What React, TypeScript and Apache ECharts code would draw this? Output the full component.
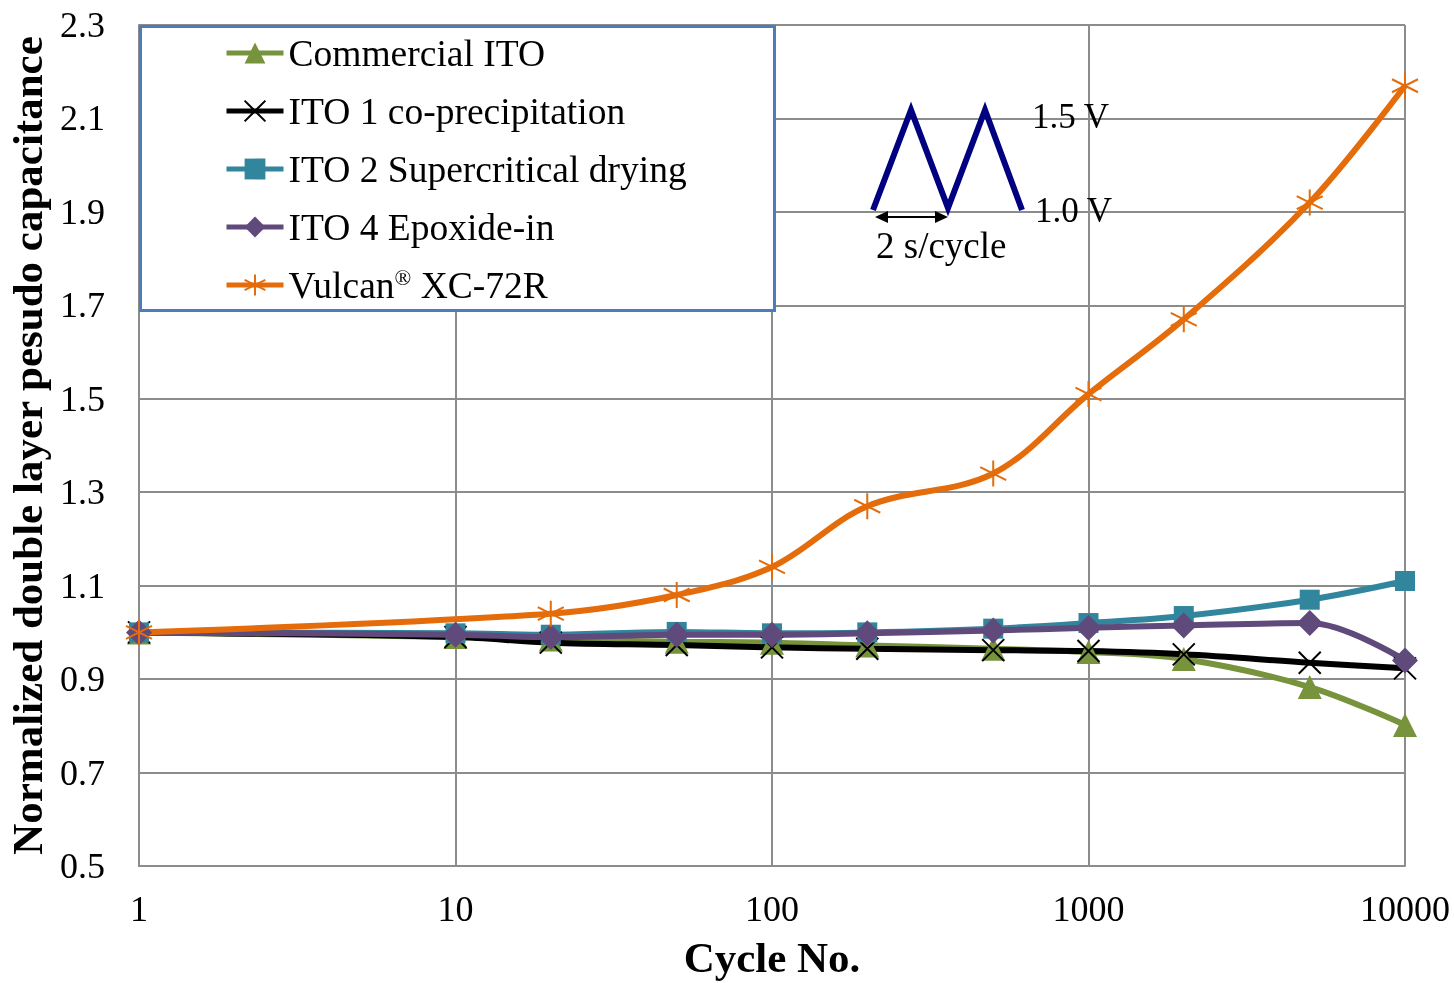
import React, { useEffect, useRef } from "react";
import * as echarts from "echarts";

const cycles = [1, 10, 20, 50, 100, 200, 500, 1000, 2000, 5000, 10000];
const commercialITO = [1.0, 0.99, 0.985, 0.98, 0.978, 0.972, 0.965, 0.958, 0.943, 0.883, 0.802];
const ito1 = [1.0, 0.99, 0.978, 0.973, 0.968, 0.965, 0.962, 0.96, 0.953, 0.935, 0.923];
const ito2 = [1.0, 0.998, 0.995, 1.001, 0.998, 1.0, 1.008, 1.02, 1.035, 1.07, 1.11];
const ito4 = [1.0, 0.995, 0.99, 0.995, 0.995, 0.998, 1.004, 1.01, 1.015, 1.02, 0.94];
const vulcan = [1.0, null, 1.04, 1.08, 1.14, 1.27, 1.34, 1.51, 1.67, 1.92, 2.17];
const xTicks = [1, 10, 100, 1000, 10000];
const yTicks = [0.5, 0.7, 0.9, 1.1, 1.3, 1.5, 1.7, 1.9, 2.1, 2.3];

const SERIF = "Liberation Serif";

function pairs(vals: (number | null)[]) {
  const out: [number, number][] = [];
  vals.forEach((v, i) => {
    if (v !== null) out.push([cycles[i], v]);
  });
  return out;
}

export default function App() {
  const ref = useRef<HTMLDivElement>(null);
  useEffect(() => {
    if (!ref.current) return;
    const chart = echarts.init(ref.current, null, { renderer: "svg" });
    const mk = (name: string, vals: (number | null)[], color: string, symbol: string, size: number, stroke: boolean) => ({
      name,
      type: "line",
      data: pairs(vals),
      smooth: 0.35,
      symbol,
      symbolSize: size,
      showAllSymbol: true,
      lineStyle: { color, width: 6 },
      itemStyle: stroke
        ? { color: "rgba(0,0,0,0)", borderColor: color, borderWidth: 2 }
        : { color, borderWidth: 0 },
      emphasis: { disabled: true },
    });
    const option: any = {
      animation: false,
      grid: { left: 139, right: 49, top: 25, bottom: 117, containLabel: false, outerBoundsMode: "none" },
      xAxis: {
        type: "log",
        logBase: 10,
        min: xTicks[0],
        max: xTicks[xTicks.length - 1],
        name: "Cycle No.",
        nameLocation: "middle",
        nameGap: 70,
        nameTextStyle: { fontFamily: SERIF, fontSize: 43, fontWeight: "bold", color: "#000" },
        axisLine: { show: true, lineStyle: { color: "#8c8c8c", width: 2 } },
        axisTick: { show: false },
        axisLabel: { fontFamily: SERIF, fontSize: 36, color: "#000", margin: 25, formatter: (v: number) => String(Math.round(v)) },
        splitLine: { show: true, lineStyle: { color: "#8c8c8c", width: 2 } },
        minorTick: { show: false },
      },
      yAxis: {
        type: "value",
        min: yTicks[0],
        max: yTicks[yTicks.length - 1],
        interval: 0.2,
        name: "Normalized double layer pesudo capacitance",
        nameLocation: "middle",
        nameGap: 88,
        nameTextStyle: { fontFamily: SERIF, fontSize: 43, fontWeight: "bold", color: "#000" },
        axisLine: { show: true, lineStyle: { color: "#8c8c8c", width: 2 } },
        axisTick: { show: false },
        axisLabel: { fontFamily: SERIF, fontSize: 36, color: "#000", margin: 34, formatter: (v: number) => v.toFixed(1) },
        splitLine: { show: true, lineStyle: { color: "#8c8c8c", width: 2 } },
      },
      legend: {
        orient: "vertical",
        left: 219,
        top: 29,
        itemWidth: 57,
        itemHeight: 26,
        itemGap: 20,
        selectedMode: false,
        lineStyle: { width: 5 },
        textStyle: {
          fontFamily: SERIF,
          fontSize: 37.5,
          color: "#000",
          lineHeight: 37,
          rich: {
            sup: { fontFamily: SERIF, fontSize: 22, color: "#000", verticalAlign: "top", lineHeight: 37, padding: [0, 0, 14, 0] },
          },
        },
        formatter: (name: string) => (name.includes("®") ? name.replace("®", "{sup|®}") : name),
      },
      graphic: [
        {
          type: "rect",
          z: 1,
          shape: { x: 140.5, y: 26.5, width: 634, height: 284 },
          style: { fill: "#fff", stroke: "#4a7ebb", lineWidth: 3 },
        },
        {
          type: "polyline",
          z: 5,
          shape: { points: [[873, 210], [911, 110], [948, 208], [985, 110], [1022, 210]] },
          style: { stroke: "#000080", lineWidth: 6, fill: null },
        },
        {
          type: "line",
          z: 5,
          shape: { x1: 882, y1: 217, x2: 940, y2: 217 },
          style: { stroke: "#000", lineWidth: 2 },
        },
        {
          type: "polygon",
          z: 5,
          shape: { points: [[875, 217], [888, 211], [888, 223]] },
          style: { fill: "#000" },
        },
        {
          type: "polygon",
          z: 5,
          shape: { points: [[948, 217], [935, 211], [935, 223]] },
          style: { fill: "#000" },
        },
        {
          type: "text",
          z: 5,
          x: 876,
          y: 245,
          style: { text: "2 s/cycle", font: `37px ${SERIF}`, fill: "#000", verticalAlign: "middle" },
        },
        {
          type: "text",
          z: 5,
          x: 1032,
          y: 116,
          style: { text: "1.5 V", font: `35px ${SERIF}`, fill: "#000", verticalAlign: "middle" },
        },
        {
          type: "text",
          z: 5,
          x: 1035,
          y: 210,
          style: { text: "1.0 V", font: `35px ${SERIF}`, fill: "#000", verticalAlign: "middle" },
        },
      ],
      series: [
        mk("Commercial ITO", commercialITO, "#77933c", "triangle", 24, false),
        mk("ITO 1 co-precipitation", ito1, "#000000", "path://M0,0L10,10M10,0L0,10", 22, true),
        mk("ITO 2 Supercritical drying", ito2, "#31859c", "rect", 20, false),
        mk("ITO 4 Epoxide-in", ito4, "#604a7b", "diamond", 26, false),
        mk("Vulcan® XC-72R", vulcan, "#e46c0a", "path://M5,0L5,10M0.7,2.5L9.3,7.5M0.7,7.5L9.3,2.5", 26, true),
      ],
    };
    chart.setOption(option);
    return () => chart.dispose();
  }, []);
  return <div ref={ref} style={{ position: "fixed", left: 0, top: 0, width: 1454, height: 983 }} />;
}
